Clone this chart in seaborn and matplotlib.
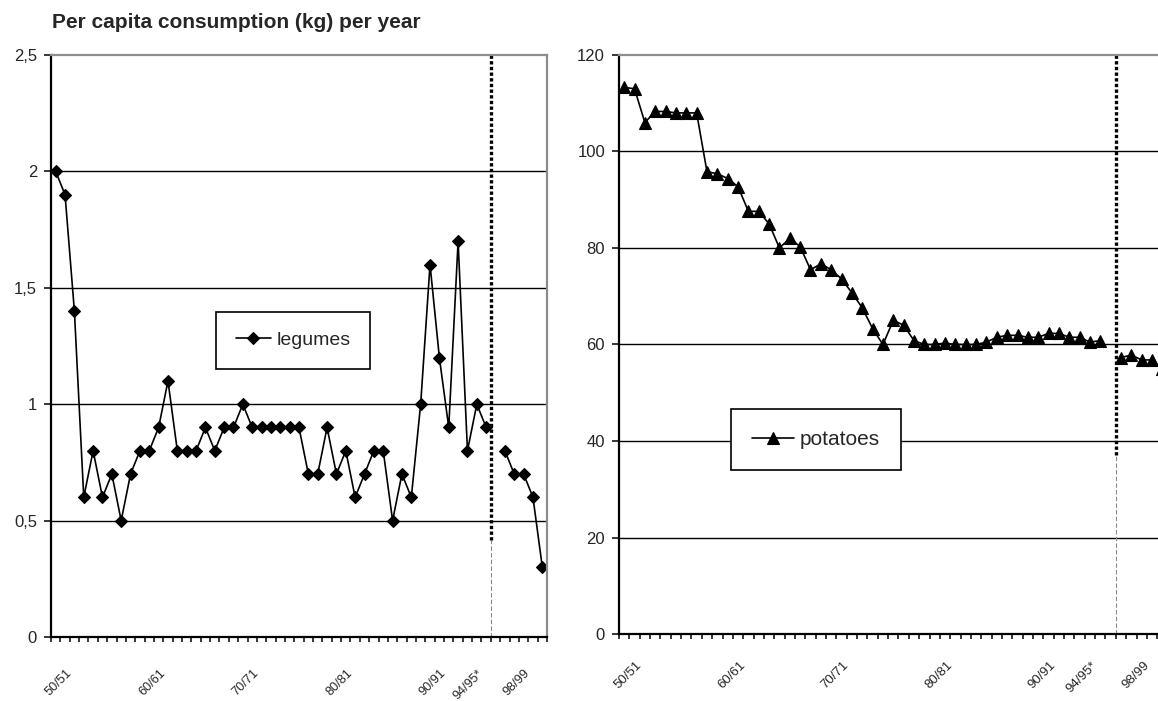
import numpy as np
import pandas as pd
import matplotlib
matplotlib.use("Agg")
import matplotlib.pyplot as plt
import matplotlib.transforms as mtransforms
import seaborn as sns

# ---- data -------------------------------------------------------------
# 53 season slots on the category axis; slot 47 stays empty at the series break
n_slots = 53
break_slot = 47
label_slots = [0, 10, 20, 30, 40, 44, 49]
season_labels = ["50/51", "60/61", "70/71", "80/81", "90/91", "94/95*", "98/99"]

legumes_before = [2.0, 1.9, 1.4, 0.6, 0.8, 0.6, 0.7, 0.5, 0.7, 0.8,
                  0.8, 0.9, 1.1, 0.8, 0.8, 0.8, 0.9, 0.8, 0.9, 0.9,
                  1.0, 0.9, 0.9, 0.9, 0.9, 0.9, 0.9, 0.7, 0.7, 0.9,
                  0.7, 0.8, 0.6, 0.7, 0.8, 0.8, 0.5, 0.7, 0.6, 1.0,
                  1.6, 1.2, 0.9, 1.7, 0.8, 1.0, 0.9]
legumes_after = [0.8, 0.7, 0.7, 0.6, 0.3]

potatoes_before = [113.3, 113.0, 106.0, 108.3, 108.3, 108.0, 108.0, 108.0, 95.8, 95.4,
                   94.4, 92.7, 87.6, 87.6, 85.0, 80.0, 82.0, 80.3, 75.5, 76.7,
                   75.5, 73.6, 70.7, 67.6, 63.3, 60.0, 65.0, 64.0, 60.8, 60.0,
                   60.0, 60.3, 60.0, 60.0, 60.0, 60.5, 61.5, 61.9, 61.9, 61.5,
                   61.5, 62.3, 62.3, 61.5, 61.5, 60.5, 60.8]
potatoes_after = [57.3, 57.8, 56.8, 56.8, 55.0]

legume_yticks = [0, 0.5, 1, 1.5, 2, 2.5]
legume_ytick_labels = ["0", "0,5", "1", "1,5", "2", "2,5"]
potato_yticks = [0, 20, 40, 60, 80, 100, 120]
potato_ytick_labels = ["0", "20", "40", "60", "80", "100", "120"]

title = "Per capita consumption (kg) per year"


def segments(before, after):
    """Two frames: slots before the break and slots after it."""
    first = pd.DataFrame({"slot": np.arange(len(before)), "value": before})
    start = break_slot + 1
    second = pd.DataFrame({"slot": np.arange(start, start + len(after)), "value": after})
    return first, second


# ---- style ------------------------------------------------------------
sns.set_style("white")
plt.rcParams["font.family"] = ["Liberation Sans", "DejaVu Sans"]

W, H, DPI = 1158, 701, 100
fig = plt.figure(figsize=(W / DPI, H / DPI), dpi=DPI)
fig.patch.set_facecolor("white")

ax_l = fig.add_axes([51 / W, 1 - 637 / H, 496 / W, 582 / H])
ax_r = fig.add_axes([619 / W, 1 - 634 / H, 548.6 / W, 579 / H])

GRAY = "#8c8c8c"


def draw_panel(ax, before, after, name, marker, msize, yticks, yticklabels,
               sep_x, sep_split, ytick_size, xtick_size, xpad, xshift_px):
    seg1, seg2 = segments(before, after)
    line_kw = dict(color="black", marker=marker, markersize=msize,
                   markeredgecolor="black", markerfacecolor="black",
                   markeredgewidth=0.8, linewidth=1.2)
    sns.lineplot(data=seg1, x="slot", y="value", ax=ax, label=name, **line_kw)
    sns.lineplot(data=seg2, x="slot", y="value", ax=ax, legend=False, **line_kw)

    ax.set_xlim(-0.5, n_slots - 0.5)
    ax.set_ylim(yticks[0], yticks[-1])
    ax.set_xlabel("")
    ax.set_ylabel("")

    # horizontal gridlines
    ax.set_yticks(yticks, labels=yticklabels)
    ax.yaxis.grid(True, color="black", linewidth=1.0)
    ax.xaxis.grid(False)
    ax.get_ygridlines()[-1].set_visible(False)
    ax.tick_params(axis="y", which="major", direction="out", length=5, width=1.1,
                   color="black", pad=5, labelsize=ytick_size, left=True)

    # category tick marks on slot boundaries, season labels on slot centres
    ax.set_xticks(np.arange(-0.5, n_slots, 1.0), minor=True)
    ax.set_xticks(label_slots, labels=season_labels)
    ax.tick_params(axis="x", which="minor", direction="out", length=3.8, width=1.1,
                   color="black", bottom=True)
    ax.tick_params(axis="x", which="major", length=0, pad=xpad, labelsize=xtick_size)
    shift = mtransforms.ScaledTranslation(xshift_px / DPI, 0, fig.dpi_scale_trans)
    for lbl in ax.get_xticklabels():
        lbl.set_rotation(45)
        lbl.set_ha("right")
        lbl.set_va("center")
        lbl.set_rotation_mode("anchor")
        lbl.set_transform(lbl.get_transform() + shift)

    for side in ("left", "bottom"):
        ax.spines[side].set_color("black")
        ax.spines[side].set_linewidth(1.6)
    for side in ("top", "right"):
        ax.spines[side].set_color(GRAY)
        ax.spines[side].set_linewidth(1.6)

    # series break: thin grey dashes below, heavy dotted line above
    ax.plot([sep_x, sep_x], [yticks[0], sep_split], color=GRAY,
            linewidth=0.8, linestyle=(0, (4, 2)), zorder=1.8)
    ax.plot([sep_x, sep_x], [sep_split, yticks[-1]], color="black",
            linewidth=2.4, linestyle=(0, (1.0, 0.7)), zorder=1.9)


draw_panel(ax_l, legumes_before, legumes_after, "legumes", "D", 6.5,
           legume_yticks, legume_ytick_labels, sep_x=46.5, sep_split=0.416,
           ytick_size=12, xtick_size=9.2, xpad=25, xshift_px=14)
draw_panel(ax_r, potatoes_before, potatoes_after, "potatoes", "^", 8.5,
           potato_yticks, potato_ytick_labels, sep_x=47.5, sep_split=37.1,
           ytick_size=12, xtick_size=9.5, xpad=21.5, xshift_px=16)

# legends in open boxes
for ax, cx, cy, fs, hl in ((ax_l, 293, 340.5, 14, 1.8), (ax_r, 816, 439.5, 15, 2.0)):
    leg = ax.legend(loc="center", bbox_to_anchor=(cx / W, 1 - cy / H),
                    bbox_transform=fig.transFigure, fontsize=fs, frameon=True,
                    fancybox=False, shadow=False, framealpha=1.0, borderpad=1.0,
                    handlelength=hl, handletextpad=0.3, borderaxespad=0)
    frame = leg.get_frame()
    frame.set_edgecolor("black")
    frame.set_linewidth(1.2)
    frame.set_facecolor("white")

fig.text(52 / W, 1 - 22 / H, title, fontsize=15, fontweight="bold",
         ha="left", va="center")

fig.savefig("out.png", dpi=DPI, facecolor="white")
